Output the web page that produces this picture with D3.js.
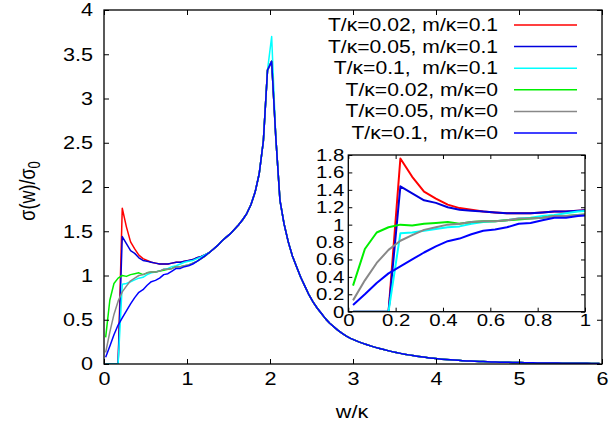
<!DOCTYPE html>
<html><head><meta charset="utf-8">
<script src="https://cdnjs.cloudflare.com/ajax/libs/d3/7.8.5/d3.min.js"></script>
<style>
body{margin:0;background:#fff}
text{font-family:"Liberation Sans",Arial,sans-serif;fill:#000}
</style>
</head><body>
<svg id="c" width="611" height="435"></svg>
<script>
// ---------- data ----------
const wStart = 0.02, wStep = 0.05, wCount = 120;
const seriesLabels = ["T/κ=0.02, m/κ=0.1","T/κ=0.05, m/κ=0.1","T/κ=0.1,  m/κ=0.1","T/κ=0.02, m/κ=0","T/κ=0.05, m/κ=0","T/κ=0.1,  m/κ=0"];
const seriesColors = ["#ff0000","#0000dd","#00ffff","#00ee00","#888888","#0000ff"];
// values at w = 0.02 ... 1.22 (step 0.05)
const lowT002m01 = [0,0,0,0,1.76,1.55,1.38,1.30,1.23,1.19,1.17,1.15,1.14,1.13,1.13,1.13,1.14,1.15,1.15,1.16,1.17,1.18,1.20,1.215,1.235];
const lowT005m01 = [0,0,0,0,1.44,1.36,1.28,1.25,1.20,1.17,1.16,1.15,1.14,1.13,1.13,1.13,1.14,1.15,1.15,1.16,1.17,1.18,1.20,1.215,1.235];
const lowT01m01  = [0,0,0,0,0.90,0.91,0.93,0.95,0.97,0.98,1.01,1.03,1.04,1.05,1.07,1.08,1.10,1.11,1.13,1.15,1.16,1.17,1.19,1.21,1.235];
const lowT002m0  = [0.30,0.72,0.91,0.97,1.00,0.99,1.01,1.02,1.03,1.01,1.03,1.04,1.04,1.05,1.06,1.07,1.08,1.10,1.10,1.11,1.12,1.14,1.16,1.19,1.22];
const lowT005m0  = [0.13,0.36,0.56,0.71,0.815,0.88,0.94,0.97,1.00,1.01,1.03,1.04,1.04,1.05,1.07,1.07,1.08,1.10,1.10,1.11,1.12,1.14,1.16,1.19,1.22];
const lowT01m0   = [0.077,0.20,0.33,0.44,0.52,0.60,0.68,0.75,0.81,0.84,0.89,0.93,0.945,0.97,1.01,1.02,1.05,1.08,1.08,1.10,1.11,1.13,1.16,1.19,1.225];
// common values at w = 1.27 ... 5.97 (step 0.05)
const sharedTail = [
 1.26,1.30,1.34,1.39,1.43,1.47,1.52,1.57,1.63,1.70,1.80,1.94,2.15,2.52,3.32,
 3.42,2.56,1.85,1.58,1.38,1.22,1.10,0.98,0.88,0.78,0.70,0.63,0.57,0.51,0.46,0.42,0.38,0.345,0.315,0.29,
 0.27,0.25,0.233,0.217,0.202,0.188,0.175,0.163,0.151,0.140,0.130,0.120,0.111,0.103,0.095,0.088,0.081,0.075,0.069,0.064,
 0.059,0.055,0.051,0.047,0.044,0.041,0.038,0.035,0.033,0.031,0.029,0.027,0.025,0.024,0.022,0.021,0.020,0.019,0.018,0.017,
 0.016,0.015,0.014,0.013,0.0125,0.012,0.0115,0.011,0.0105,0.010,0.0095,0.009,0.0086,0.0082,0.0078,0.0075,0.0072,0.0069,0.0066,0.0063];
// peak value at w = 2.02 for each series
const peakAt202 = [3.42,3.42,3.70,3.42,3.42,3.42];
const mainXTicks = [0,1,2,3,4,5,6];
const mainYTicks = [0,0.5,1,1.5,2,2.5,3,3.5,4];
const insetXTicks = [0,0.2,0.4,0.6,0.8,1];
const insetYTicks = [0,0.2,0.4,0.6,0.8,1,1.2,1.4,1.6,1.8];

const lows = [lowT002m01,lowT005m01,lowT01m01,lowT002m0,lowT005m0,lowT01m0];
const wGrid = d3.range(wCount).map(i => +(wStart + wStep*i).toFixed(2));
const peakIdx = 15;
const series = lows.map((low, s) => {
  const tail = sharedTail.slice(); tail[peakIdx] = peakAt202[s];
  const vals = low.concat(tail);
  return {label: seriesLabels[s], color: seriesColors[s], pts: wGrid.map((w,i)=>({w, v: vals[i]}))};
});

// ---------- drawing ----------
const SX = 1.2; // horizontal text stretch
const svg = d3.select("#c");
const fmt = d3.format("~g");

function panel(opts){
  const {x0,x1,y0,y1,xd,yd,xt,yt,fs,tick,lw,clipId,padX,padY} = opts;
  const x = d3.scaleLinear().domain(xd).range([x0,x1]);
  const y = d3.scaleLinear().domain(yd).range([y0,y1]);
  svg.append("clipPath").attr("id",clipId).append("rect")
    .attr("x",x0).attr("y",y1).attr("width",x1-x0).attr("height",y0-y1);
  const line = d3.line().x(d=>x(d.w)).y(d=>y(d.v));
  const gl = svg.append("g").attr("clip-path",`url(#${clipId})`);
  series.forEach(s=>{
    gl.append("path").attr("d",line(s.pts)).attr("fill","none")
      .attr("stroke",s.color).attr("stroke-width",lw).attr("stroke-linejoin","round");
  });
  const axB = svg.append("g").attr("transform",`translate(0,${y0})`)
    .call(d3.axisBottom(x).tickValues(xt).tickFormat(fmt).tickSizeInner(-tick).tickSizeOuter(0).tickPadding(padX));
  const axT = svg.append("g").attr("transform",`translate(0,${y1})`)
    .call(d3.axisTop(x).tickValues(xt).tickFormat("").tickSizeInner(-tick).tickSizeOuter(0));
  const axL = svg.append("g").attr("transform",`translate(${x0},0)`)
    .call(d3.axisLeft(y).tickValues(yt).tickFormat(fmt).tickSizeInner(-tick).tickSizeOuter(0).tickPadding(padY));
  const axR = svg.append("g").attr("transform",`translate(${x1},0)`)
    .call(d3.axisRight(y).tickValues(yt).tickFormat("").tickSizeInner(-tick).tickSizeOuter(0));
  [axB,axT,axL,axR].forEach(g=>{
    g.select(".domain").remove();
    g.selectAll(".tick line").attr("stroke","#000").attr("stroke-width",1);
    g.selectAll(".tick text").attr("font-size",fs).attr("font-family","Liberation Sans, Arial, sans-serif").attr("fill","#000");
  });
  axB.selectAll(".tick text").attr("transform",`scale(${SX},1)`);
  axL.selectAll(".tick text").each(function(){
    const t=d3.select(this); const xx=+t.attr("x");
    t.attr("transform",`translate(${xx},0) scale(${SX},1) translate(${-xx},0)`);
  });
  svg.append("rect").attr("x",x0).attr("y",y1).attr("width",x1-x0).attr("height",y0-y1)
    .attr("fill","none").attr("stroke","#000").attr("stroke-width",1.3);
  return {x,y};
}

// main plot
panel({x0:104,x1:602,y0:364,y1:10,xd:[0,6],yd:[0,4],xt:mainXTicks,yt:mainYTicks,fs:18,tick:5,lw:1.5,clipId:"clipMain",padX:8,padY:11});

// legend
const legY0 = 31, legDY = 21.6;
series.forEach((s,i)=>{
  const yy = legY0 + i*legDY;
  svg.append("text").attr("transform",`translate(498,${yy}) scale(${SX},1)`)
    .attr("text-anchor","end").attr("font-size",17.6).style("white-space","pre").text(s.label);
  svg.append("line").attr("x1",514).attr("x2",577).attr("y1",yy-6).attr("y2",yy-6)
    .attr("stroke",s.color).attr("stroke-width",1.5);
});

// inset
panel({x0:348.3,x1:585,y0:311.7,y1:155,xd:[0,1],yd:[0,1.8],xt:insetXTicks,yt:insetYTicks,fs:17,tick:4,lw:2,clipId:"clipInset",padX:2,padY:4});

// axis titles
svg.append("text").attr("transform",`translate(352,418) scale(${SX},1)`)
  .attr("text-anchor","middle").attr("font-size",18).text("w/κ");
const yl = svg.append("text").attr("transform",`translate(35,191) scale(${SX},1) rotate(-90)`)
  .attr("text-anchor","middle").attr("font-size",18);
yl.append("tspan").text("σ(w)/σ");
yl.append("tspan").attr("font-size",13).attr("dy",4).text("0");
</script>
</body></html>
